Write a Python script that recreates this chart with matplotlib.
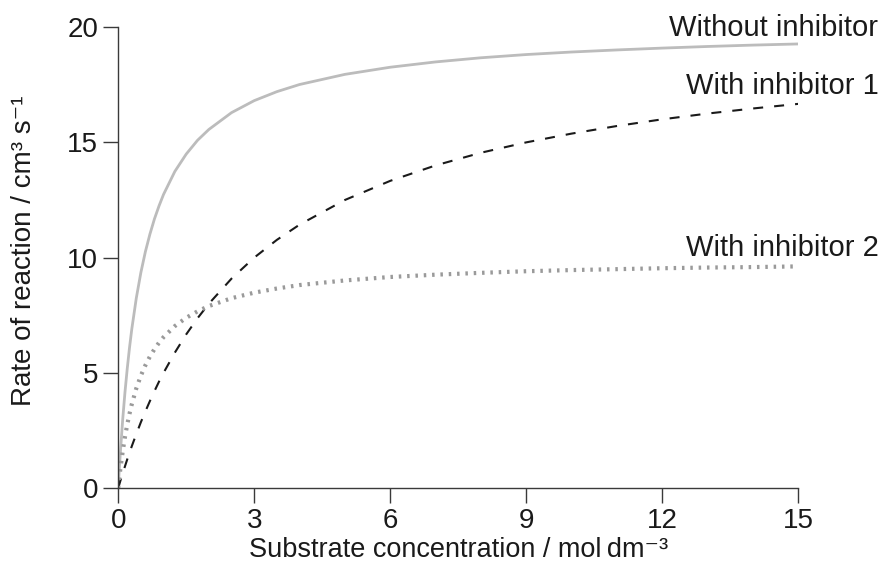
import matplotlib
matplotlib.use("Agg")
import matplotlib.pyplot as plt
import matplotlib.transforms as mtransforms

plt.rcParams['font.family'] = ['Liberation Sans', 'DejaVu Sans']

# substrate concentration / mol dm-3
conc = [0, 0.02, 0.05, 0.1, 0.15, 0.2, 0.25, 0.3, 0.4, 0.5, 0.6, 0.7, 0.8,
        0.9, 1, 1.25, 1.5, 1.75, 2, 2.5, 3, 3.5, 4, 5, 6, 7, 8, 9, 10, 11,
        12, 13, 14, 15]

# rate of reaction / cm3 s-1
rate_none = [0, 0.68, 1.61, 2.99, 4.17, 5.19, 6.1, 6.9, 8.25, 9.35, 10.26,
             11.02, 11.68, 12.24, 12.74, 13.74, 14.49, 15.09, 15.56, 16.29,
             16.81, 17.2, 17.51, 17.95, 18.26, 18.49, 18.67, 18.81, 18.92,
             19.01, 19.09, 19.16, 19.22, 19.27]
rate_inh1 = [0, 0.13, 0.33, 0.65, 0.95, 1.25, 1.54, 1.82, 2.35, 2.86, 3.33,
             3.78, 4.21, 4.62, 5.0, 5.88, 6.67, 7.37, 8.0, 9.09, 10.0, 10.77,
             11.43, 12.5, 13.33, 14.0, 14.55, 15.0, 15.38, 15.71, 16.0,
             16.25, 16.47, 16.67]
rate_inh2 = [0, 0.37, 0.87, 1.6, 2.23, 2.76, 3.23, 3.64, 4.33, 4.88, 5.33,
             5.71, 6.03, 6.31, 6.55, 7.03, 7.39, 7.67, 7.9, 8.24, 8.48, 8.66,
             8.81, 9.01, 9.16, 9.26, 9.34, 9.41, 9.46, 9.5, 9.54, 9.57,
             9.59, 9.62]

labels = ["Without inhibitor", "With inhibitor 1", "With inhibitor 2"]
label_y = [19.6, 17.08, 10.05]

x_ticks = [0, 3, 6, 9, 12, 15]
y_ticks = [0, 5, 10, 15, 20]

fig = plt.figure(figsize=(8.82, 5.77), dpi=100)
ax = fig.add_axes([0.134, 0.154, 0.771, 0.799])

ax.plot(conc, rate_none, color="#bcbcbc", lw=2.0, solid_capstyle="butt")
ax.plot(conc, rate_inh1, color="#1a1a1a", lw=1.5,
        linestyle=(0, (4.8, 5.3)))
ax.plot(conc, rate_inh2, color="#9a9a9a", lw=3.0,
        linestyle=(0, (0.6, 1.4)), dash_capstyle="butt")

# curve labels, right aligned past the end of the x axis
trans = mtransforms.blended_transform_factory(ax.transAxes, ax.transData)
for text, yv in zip(labels, label_y):
    ax.text(1.118, yv, text, transform=trans, ha="right", va="baseline",
            fontsize=21, color="#1a1a1a", clip_on=False)

ax.set_xlim(0, 15)
ax.set_ylim(0, 20)
ax.set_xticks(x_ticks)
ax.set_yticks(y_ticks)

for side in ["top", "right"]:
    ax.spines[side].set_visible(False)
for side in ["left", "bottom"]:
    ax.spines[side].set_color("#3a3a3a")
    ax.spines[side].set_linewidth(1.0)

ax.tick_params(direction="out", length=10.5, width=1.0, color="#3a3a3a",
               labelsize=20, labelcolor="#1a1a1a", pad=4)

ax.set_xlabel("Substrate concentration / mol\u2009dm\u207b\u00b3",
              fontsize=19.5, color="#1a1a1a", labelpad=2)
ax.set_ylabel("Rate of reaction / cm\u00b3 s\u207b\u00b9",
              fontsize=20, color="#1a1a1a")
ax.yaxis.set_label_coords(-0.12, 0.515)

fig.savefig("out.png", dpi=100)
